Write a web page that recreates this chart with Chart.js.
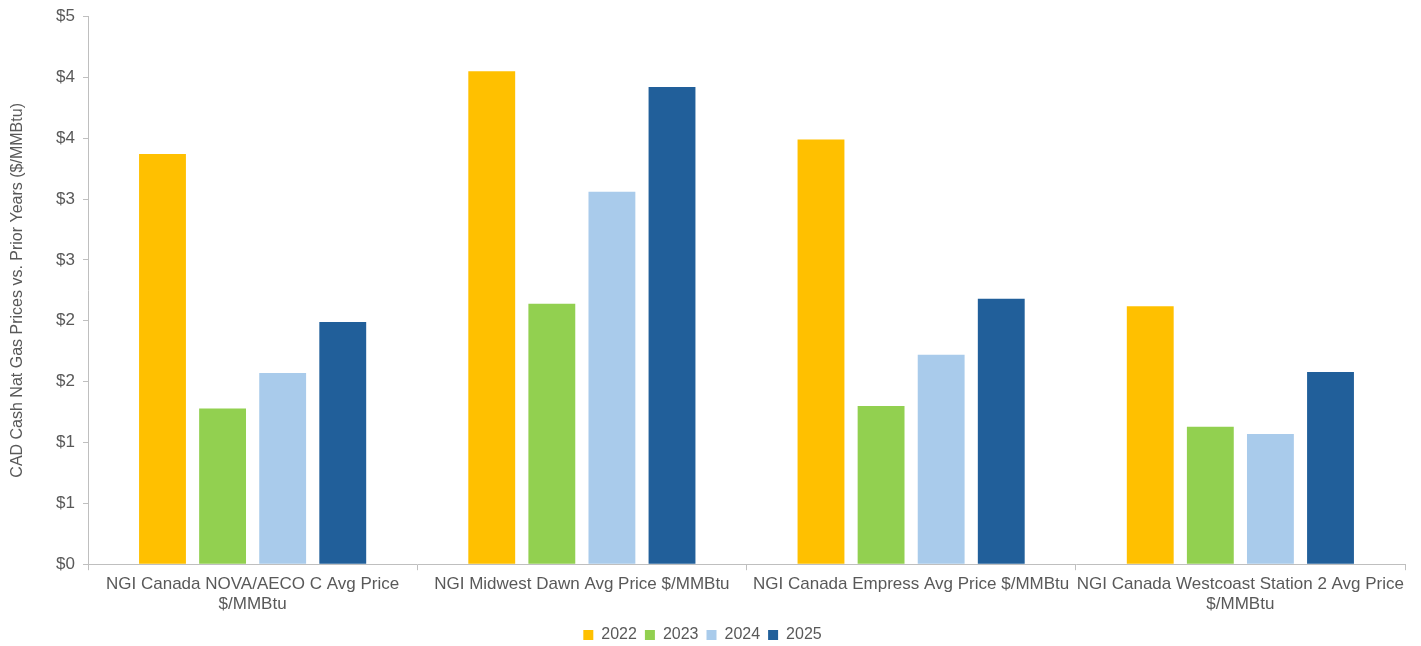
<!DOCTYPE html>
<html>
<head>
<meta charset="utf-8">
<script src="https://cdn.jsdelivr.net/npm/chart.js@4.4.0/dist/chart.umd.min.js"></script>
<style>
  html, body { margin: 0; padding: 0; background: #fff; }
  #wrap { width: 1421px; height: 646px; }
</style>
</head>
<body>
<div id="wrap"><canvas id="priceChart"></canvas></div>
<script>
const hubs = [
  ["NGI Canada NOVA/AECO C Avg Price", "$/MMBtu"],
  "NGI Midwest Dawn Avg Price $/MMBtu",
  "NGI Canada Empress Avg Price $/MMBtu",
  ["NGI Canada Westcoast Station 2 Avg Price", "$/MMBtu"]
];
const years = ["2022", "2023", "2024", "2025"];
const prices2022 = [3.37, 4.05, 3.49, 2.12];
const prices2023 = [1.28, 2.14, 1.30, 1.13];
const prices2024 = [1.57, 3.06, 1.72, 1.07];
const prices2025 = [1.99, 3.92, 2.18, 1.58];
const colors = ["#FFC000", "#92D050", "#A9CBEB", "#215F9A"];

const series = [prices2022, prices2023, prices2024, prices2025];
const textColor = "#595959";
const axisColor = "#BFBFBF";
const fontFam = "Liberation Sans, Arial";

new Chart(document.getElementById("priceChart"), {
  type: "bar",
  data: {
    labels: hubs,
    datasets: years.map((yr, i) => ({
      label: yr,
      data: series[i],
      backgroundColor: colors[i],
      barPercentage: 0.78,
      categoryPercentage: 0.73
    }))
  },
  options: {
    responsive: true,
    maintainAspectRatio: false,
    animation: false,
    layout: { padding: { top: 4, right: 16, bottom: -7, left: 0 } },
    plugins: {
      legend: {
        position: "bottom",
        labels: {
          color: textColor,
          font: { family: fontFam, size: 16 },
          boxWidth: 10,
          boxHeight: 10,
          padding: 8
        }
      },
      tooltip: { enabled: false }
    },
    scales: {
      x: {
        grid: {
          display: true,
          drawOnChartArea: false,
          color: axisColor,
          tickLength: 6
        },
        border: { color: axisColor },
        ticks: {
          color: textColor,
          font: { family: fontFam, size: 17 },
          padding: 4,
          maxRotation: 0,
          autoSkip: false
        }
      },
      y: {
        min: 0,
        max: 4.5,
        afterFit: (scale) => { scale.width = 88; },
        title: {
          display: true,
          text: "CAD Cash Nat Gas Prices vs. Prior Years ($/MMBtu)",
          color: textColor,
          font: { family: fontFam, size: 16 },
          padding: { top: 8, bottom: 0 }
        },
        grid: {
          display: true,
          drawOnChartArea: false,
          color: axisColor,
          tickLength: 5
        },
        border: { color: axisColor },
        ticks: {
          stepSize: 0.5,
          color: textColor,
          font: { family: fontFam, size: 17, lineHeight: 1 },
          padding: 8,
          callback: (v) => "$" + Math.round(v)
        }
      }
    }
  }
});
</script>
</body>
</html>
